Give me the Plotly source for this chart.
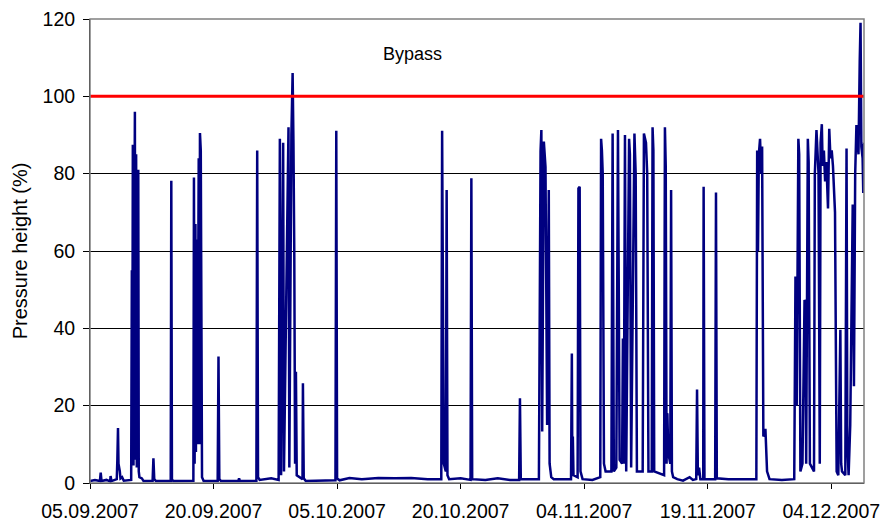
import pandas as pd
import plotly.graph_objects as go

start_date = "2007-09-05"

# time offset in days since 05.09.2007 and pressure height (%)
day_offset = [
    0.0, 0.6, 1.2, 1.3, 1.4, 2.0, 2.45, 2.5, 2.6, 3.25, 3.32, 3.4, 3.46, 3.55, 3.62, 3.7, 3.9, 4.1,
    5.0, 5.08, 5.13, 5.2, 5.28, 5.45, 5.5, 5.6, 5.68, 5.8, 5.86, 5.92, 6.0, 6.3, 6.5,
    7.6, 7.7, 7.8, 8.0, 9.8, 9.87, 9.95, 10.1,
    12.55, 12.62, 12.7, 12.8, 12.86, 12.95, 13.05, 13.2, 13.28, 13.35, 13.45, 13.52, 13.6, 13.8,
    15.5, 15.6, 15.7, 15.9, 18.0, 18.1, 18.2, 20.2, 20.3, 20.4, 20.6, 22.0, 22.9,
    23.05, 23.2, 23.45, 23.55, 24.1, 24.2, 24.45, 24.6, 24.7, 24.8, 24.9, 25.0, 25.1,
    25.8, 25.85, 25.95, 26.2, 29.8, 29.9, 30.0, 30.3,
    31.5, 33.0, 35.0, 37.0, 39.0, 41.0,
    42.65, 42.75, 42.85, 42.95, 43.2, 43.3, 43.4, 43.6, 45.0, 46.2, 46.3, 46.4,
    48.0, 49.5, 51.0, 52.1, 52.2, 52.3,
    54.5, 54.6, 54.7, 54.8, 54.9, 55.1, 55.3, 55.5, 55.7, 55.8, 56.0, 56.3,
    58.0, 58.4, 58.5, 58.55, 58.62, 58.7, 59.2, 59.3, 59.45, 59.55, 59.8, 61.0,
    61.95, 62.05, 62.15, 62.25, 62.4, 62.6, 63.3, 63.45, 63.6, 63.9, 64.1, 64.3,
    64.6, 64.7, 64.8, 64.95, 65.1, 65.45, 65.55, 65.7, 66.1, 66.25, 66.4,
    67.1, 67.25, 67.5, 67.65, 67.8, 68.2, 68.3, 68.4, 68.5,
    69.7, 69.8, 69.9, 70.0, 70.1, 70.2, 70.45, 70.55, 70.65, 70.8, 71.3, 72.0, 72.8, 73.2,
    73.6, 73.7, 73.8, 73.95, 74.1, 74.45, 74.5, 74.6, 75.9, 76.0, 76.1, 77.5, 79.0,
    80.9, 81.0, 81.1, 81.2, 81.35, 81.5, 81.6, 81.75, 82.0, 82.2, 82.5, 84.0,
    85.5, 85.65, 85.8, 86.0, 86.1, 86.25, 86.5, 86.75, 86.85, 86.95, 87.15, 87.25, 87.4, 87.9,
    88.0, 88.2, 88.3, 88.45, 88.6, 88.7, 88.85, 88.95, 89.1, 89.25, 89.4, 89.6, 89.75, 89.9,
    90.05, 90.2, 90.45, 90.65, 90.85, 91.0, 91.1, 91.2, 91.3,
    91.7, 91.85, 91.95, 92.1, 92.3, 92.5, 92.6, 92.75, 92.9, 93.05, 93.15, 93.3, 93.45, 93.55,
    93.65, 93.8, 93.88, 93.95, 94.0,
]
pressure_pct = [
    0.5, 0.8, 0.5, 2.7, 0.5, 0.8, 0.4, 1.8, 0.5, 1.0, 6.0, 14.2, 5.0, 4.0, 3.0, 1.2, 1.5, 0.6,
    0.8, 55.0, 5.0, 87.5, 4.5, 96.0, 6.0, 85.0, 4.0, 80.0, 81.0, 3.0, 1.5, 1.2, 0.5,
    0.6, 6.4, 1.0, 0.5, 0.5, 78.2, 1.0, 0.5,
    0.6, 79.0, 5.0, 67.0, 8.0, 63.0, 10.0, 84.0, 10.0, 90.5, 86.0, 5.0, 1.5, 0.5,
    0.5, 32.7, 1.0, 0.5, 0.5, 1.2, 0.5, 0.6, 86.0, 1.5, 0.8, 1.2, 0.8,
    89.0, 2.0, 88.0, 3.0, 92.0, 4.0, 90.0, 106.0, 88.0, 60.0, 5.0, 28.8, 2.0,
    1.0, 25.8, 1.2, 0.5, 0.7, 91.1, 1.2, 0.7,
    1.3, 1.0, 1.3, 1.2, 1.3, 1.0,
    1.0, 91.1, 29.0, 5.0, 3.0, 75.8, 2.0, 1.0, 1.2, 0.8, 78.8, 1.0,
    0.8, 1.2, 0.8, 0.8, 21.9, 1.0,
    1.0, 48.0, 85.8, 91.3, 13.3, 88.3, 81.8, 15.0, 75.8, 5.0, 1.5, 1.0,
    1.0, 1.0, 33.5, 8.0, 12.0, 2.0, 1.5, 76.2, 76.6, 3.0, 1.0, 0.8,
    1.5, 89.0, 86.0, 80.0, 5.0, 3.0, 3.0, 90.4, 3.0, 4.0, 91.3, 6.0,
    5.0, 37.4, 5.0, 90.0, 3.0, 89.0, 85.0, 4.0, 90.4, 80.0, 3.0,
    3.0, 90.4, 88.0, 80.0, 3.0, 3.0, 92.0, 86.0, 3.0,
    2.0, 92.0, 82.0, 5.0, 18.0, 8.0, 5.0, 75.8, 3.0, 1.5, 1.0, 0.6, 1.5, 0.8,
    1.0, 24.2, 2.0, 4.0, 1.0, 1.0, 76.6, 1.0, 1.0, 75.1, 1.2, 1.0, 1.0,
    1.0, 86.0, 60.0, 85.0, 89.0, 80.0, 87.0, 12.0, 14.0, 3.0, 1.0, 0.8,
    1.0, 53.4, 20.0, 89.0, 85.0, 3.0, 5.0, 47.3, 47.0, 5.0, 89.0, 83.0, 5.0, 3.0,
    80.0, 91.3, 85.0, 80.0, 5.0, 88.0, 92.8, 82.0, 86.0, 78.0, 83.0, 71.0, 91.6, 84.0,
    86.0, 82.0, 70.0, 3.0, 2.0, 25.0, 39.6, 5.0, 3.0,
    2.0, 86.5, 10.0, 2.0, 15.0, 60.0, 72.0, 25.0, 80.0, 92.6, 88.0, 85.0, 109.0, 119.0,
    87.0, 84.0, 75.0, 88.0, 80.0,
]

bypass_level = 100
bypass_label = "Bypass"
y_title = "Pressure height (%)"

t0 = pd.Timestamp(start_date)
times = [t0 + pd.Timedelta(days=d) for d in day_offset]
x_start = t0
x_end = t0 + pd.Timedelta(days=93.97)

font = "Liberation Sans, Arial, sans-serif"

fig = go.Figure()
fig.add_trace(go.Scatter(
    x=times, y=pressure_pct, mode="lines",
    line=dict(color="#000080", width=2.5), showlegend=False,
))
fig.add_trace(go.Scatter(
    x=[x_start, x_end], y=[bypass_level, bypass_level], mode="lines",
    line=dict(color="#FF0000", width=3), showlegend=False,
))
fig.add_annotation(
    x=t0 + pd.Timedelta(days=39.1), y=111, text=bypass_label, showarrow=False,
    font=dict(family=font, size=18, color="#000"),
)
fig.add_shape(type="rect", xref="paper", yref="paper", x0=0, y0=0, x1=1, y1=1,
              line=dict(color="#808080", width=1.5), layer="above")

fig.update_layout(
    width=883, height=523,
    margin=dict(l=90, r=19, t=19, b=40),
    paper_bgcolor="white", plot_bgcolor="white",
    font=dict(family=font, size=19.5, color="#000"),
    xaxis=dict(
        range=[x_start, x_end], type="date", automargin=False,
        tick0=start_date, dtick=15 * 86400000, tickformat="%d.%m.%Y",
        showgrid=False, showline=True, linecolor="#000", linewidth=1,
        ticks="outside", ticklen=5, tickcolor="#000", ticklabelstandoff=6,
        tickfont=dict(size=19.5), zeroline=False,
    ),
    yaxis=dict(
        range=[0, 120], tickvals=[0, 20, 40, 60, 80, 100, 120], automargin=False,
        showgrid=True, gridcolor="#000", gridwidth=1,
        showline=True, linecolor="#000", linewidth=1,
        ticks="outside", ticklen=6, tickcolor="#000", ticklabelstandoff=4,
        tickfont=dict(size=19.5), zeroline=False,
        title=dict(text=y_title, font=dict(size=20), standoff=9),
    ),
)

fig.write_html("out.html", config={"displayModeBar": False},
               post_script="document.body.style.margin='0px';")
